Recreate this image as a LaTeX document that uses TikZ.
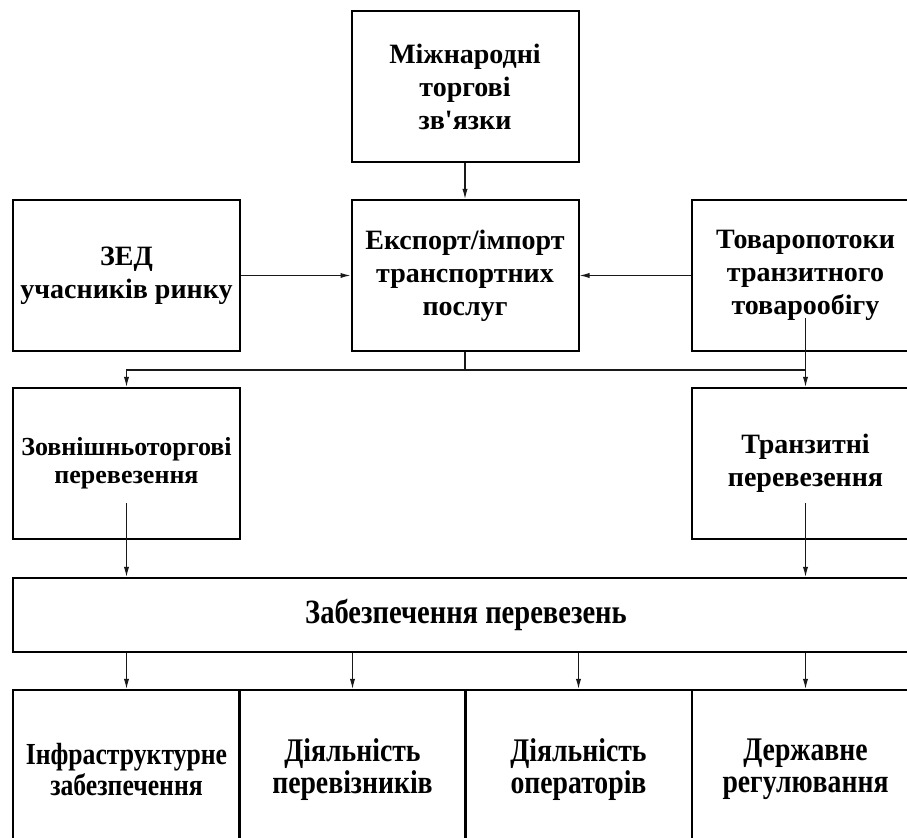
\documentclass[tikz,border=0pt]{standalone}
\usepackage{fontspec}
\setmainfont{Liberation Serif}
\newfontfamily\narrowfont[FakeStretch=0.84]{Liberation Serif}
\usetikzlibrary{arrows.meta}

\begin{document}
\begin{tikzpicture}[x=0.5pt, y=-0.5pt,
    box/.style={draw, line width=1pt, align=center, inner sep=0pt,
        minimum width=113.5pt, minimum height=75.5pt,
        font=\bfseries\fontsize{14}{16.5}\selectfont},
    smallbox/.style={box, font=\bfseries\fontsize{13}{14}\selectfont},
    widebox/.style={box, minimum width=453pt, minimum height=37pt,
        font=\narrowfont\bfseries\fontsize{17}{16}\selectfont},
    lowbox/.style={box, minimum height=79.5pt,
        font=\narrowfont\bfseries\fontsize{16.5}{16}\selectfont},
    link/.style={line width=0.55pt, black!90},
    arr/.style={link, -{Latex[length=5pt, width=2.6pt]}}]
    \useasboundingbox (0,0) rectangle (907,838);
    \clip (0,0) rectangle (907,838);

    % top and second row
    \node[box] (mtz) at (465,87) {Міжнародні\\торгові\\зв\textquotesingle язки};
    \node[box] (zed) at (126.5,275.5) {ЗЕД\\учасників ринку};
    \node[box] (exp) at (465,275.5) {Експорт/імпорт\\транспортних\\послуг};
    \node[box] (tov) at (805.5,275.5) {Товаропотоки\\транзитного\\товарообігу};

    % kinds of carriage
    \node[smallbox] (zov) at (126.5,463.5) {Зовнішньоторгові\\перевезення};
    \node[box] (tr) at (805.5,463.5) {Транзитні\\перевезення};
    \node[widebox] (zab) at (466,615) {Забезпечення перевезень};

    % bottom row
    \node[lowbox, font=\narrowfont\bfseries\fontsize{15.3}{13}\selectfont] (inf) at (126.5,769.5) {Інфраструктурне\\забезпечення};
    \node[lowbox] (per) at (352.5,769.5) {Діяльність\\перевізників};
    \node[lowbox] (op) at (578.5,769.5) {Діяльність\\операторів};
    \node[lowbox] (der) at (805.5,769.5) {Державне\\регулювання};

    \coordinate (fork) at (465,370);
    \coordinate (tovin) at (805.5,318);
    \coordinate (zovin) at (126.5,503);
    \coordinate (trin) at (805.5,503);

    \draw[arr] (mtz) -- (exp);
    \draw[arr] (zed.east) -- (exp.west);
    \draw[arr] (tov.west) -- (exp.east);
    \draw[link] (exp) -- (fork);
    \draw[arr] (fork) -| (zov);
    \draw[arr] (fork) -| (tr);
    \draw[link] (tovin) -- (tovin |- fork);
    \draw[arr] (zovin) -- (zovin |- zab.north);
    \draw[arr] (trin) -- (trin |- zab.north);
    \foreach \n in {inf,per,op,der}
        \draw[arr] (zab.south -| \n) -- (\n.north);
\end{tikzpicture}
\end{document}
